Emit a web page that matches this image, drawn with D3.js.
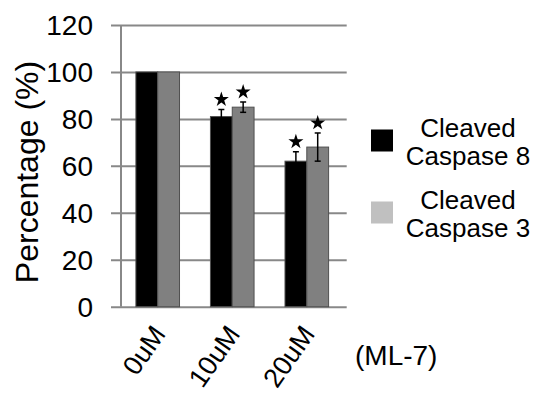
<!DOCTYPE html>
<html>
<head>
<meta charset="utf-8">
<script src="https://cdn.jsdelivr.net/npm/d3@7"></script>
<style>
  body { margin: 0; background: #fff; }
  text { font-family: "Liberation Sans", Arial, sans-serif; fill: #000; }
</style>
</head>
<body>
<div id="chart"></div>
<script>
// values
var groups = ["0uM", "10uM", "20uM"];
var seriesNames = ["Cleaved Caspase 8", "Cleaved Caspase 3"];
var casp8 = [100, 81, 62];
var casp8Err = [0, 3, 4];
var casp3 = [100, 85, 68];
var casp3Err = [0, 2.2, 6];
var casp8Star = [false, true, true];
var casp3Star = [false, true, true];
var yTicks = [0, 20, 40, 60, 80, 100, 120];

var fullWidth = 533, fullHeight = 397;

var svg = d3.select("#chart")
  .append("svg")
  .attr("width", fullWidth)
  .attr("height", fullHeight);

var xScale = d3.scaleBand().domain(groups).range([119.5, 345]).paddingInner(0.415).paddingOuter(0.22);
var xInner = d3.scaleBand().domain(seriesNames).range([0, xScale.bandwidth()]);
var yScale = d3.scaleLinear().domain([0, 120]).range([306.7, 25]);
var colors = d3.scaleOrdinal().domain(seriesNames).range(["#000000", "#808080"]);
var legendColors = ["#000000", "#c0c0c0"];

// gridlines (incl. baseline) with outer ticks on the left
var yAxis = d3.axisLeft(yScale)
  .tickValues(yTicks)
  .tickSize(-(346.7 - 111))
  .tickFormat("");
var gAxis = svg.append("g")
  .attr("transform", "translate(111,0)")
  .call(yAxis);
gAxis.select(".domain").remove();
gAxis.selectAll(".tick line").attr("stroke", "#888").attr("stroke-width", 2);

// vertical axis line
svg.append("line")
  .attr("x1", 121).attr("x2", 121)
  .attr("y1", yScale(120)).attr("y2", yScale(0))
  .attr("stroke", "#888").attr("stroke-width", 2);

// tick labels
svg.selectAll(".ylab")
  .data(yTicks)
  .enter().append("text")
  .attr("class", "ylab")
  .attr("x", 93)
  .attr("y", function(d) { return yScale(d); })
  .attr("dy", "0.36em")
  .attr("text-anchor", "end")
  .style("font-size", "28px")
  .text(function(d) { return d; });

// y title
svg.append("text")
  .attr("transform", "translate(37.5,172) rotate(-90)")
  .attr("text-anchor", "middle")
  .style("font-size", "32px")
  .text("Percentage (%)");

// bars
var rows = [];
groups.forEach(function(g, i) {
  rows.push({group: g, s: seriesNames[0], v: casp8[i], e: casp8Err[i], star: casp8Star[i]});
  rows.push({group: g, s: seriesNames[1], v: casp3[i], e: casp3Err[i], star: casp3Star[i]});
});

svg.selectAll(".bar")
  .data(rows)
  .enter().append("rect")
  .attr("class", "bar")
  .attr("x", function(d) { return xScale(d.group) + xInner(d.s); })
  .attr("y", function(d) { return yScale(d.v); })
  .attr("width", xInner.bandwidth())
  .attr("height", function(d) { return yScale(0) - yScale(d.v); })
  .attr("fill", function(d) { return colors(d.s); })
  .attr("stroke", "#505050")
  .attr("stroke-width", 1);

// error bars
var errRows = rows.filter(function(d) { return d.e > 0; });
var cx = function(d) { return xScale(d.group) + xInner(d.s) + xInner.bandwidth() / 2; };
var eb = svg.selectAll(".err").data(errRows).enter().append("g").attr("class", "err");
eb.append("line")
  .attr("x1", cx).attr("x2", cx)
  .attr("y1", function(d) { return yScale(d.v + d.e); })
  .attr("y2", function(d) { return yScale(d.v - d.e); })
  .attr("stroke", "#000").attr("stroke-width", 1.5);
eb.append("line")
  .attr("x1", function(d) { return cx(d) - 3; }).attr("x2", function(d) { return cx(d) + 3; })
  .attr("y1", function(d) { return yScale(d.v + d.e); })
  .attr("y2", function(d) { return yScale(d.v + d.e); })
  .attr("stroke", "#000").attr("stroke-width", 1.5);
eb.append("line")
  .attr("x1", function(d) { return cx(d) - 3; }).attr("x2", function(d) { return cx(d) + 3; })
  .attr("y1", function(d) { return yScale(d.v - d.e); })
  .attr("y2", function(d) { return yScale(d.v - d.e); })
  .attr("stroke", "#000").attr("stroke-width", 1.5);

// significance stars
svg.selectAll(".star")
  .data(rows.filter(function(d) { return d.star; }))
  .enter().append("path")
  .attr("class", "star")
  .attr("d", d3.symbol().type(d3.symbolStar).size(70))
  .attr("transform", function(d) { return "translate(" + cx(d) + "," + (yScale(d.v + d.e) - 10) + ")"; })
  .attr("fill", "#000");

// x labels, rotated
svg.selectAll(".xlab")
  .data(groups)
  .enter().append("text")
  .attr("class", "xlab")
  .attr("text-anchor", "end")
  .attr("transform", function(d) {
    return "translate(" + (xScale(d) + xScale.bandwidth() / 2 + 9) + ",334) rotate(-55)";
  })
  .style("font-size", "27px")
  .text(function(d) { return d; });

svg.append("text")
  .attr("x", 355).attr("y", 365)
  .style("font-size", "28px")
  .text("(ML-7)");

// legend
var legendY = [129.5, 201.5];
var legendLines = [["Cleaved", "Caspase 8"], ["Cleaved", "Caspase 3"]];
var lg = svg.selectAll(".legend")
  .data(seriesNames)
  .enter().append("g")
  .attr("class", "legend");
lg.append("rect")
  .attr("x", 371)
  .attr("y", function(d, i) { return legendY[i]; })
  .attr("width", 22).attr("height", 22)
  .attr("fill", function(d, i) { return legendColors[i]; });
lg.each(function(d, i) {
  var g = d3.select(this);
  legendLines[i].forEach(function(t, j) {
    g.append("text")
      .attr("x", 468)
      .attr("y", legendY[i] + 7.5 + j * 28)
      .attr("text-anchor", "middle")
      .style("font-size", "26px")
      .text(t);
  });
});
</script>
</body>
</html>
